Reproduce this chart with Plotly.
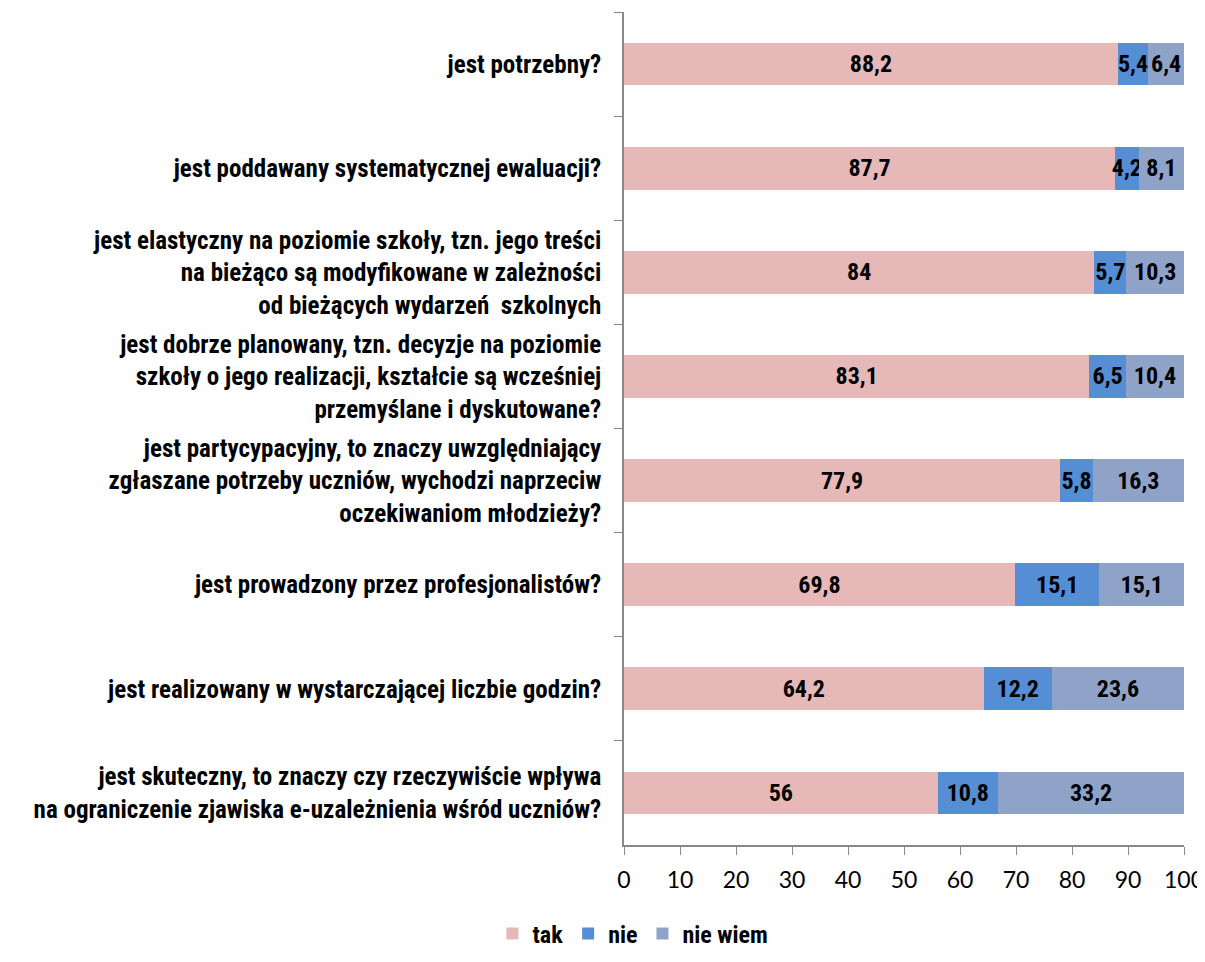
import plotly.graph_objects as go

categories = [
    "jest potrzebny?",
    "jest poddawany systematycznej ewaluacji?",
    "jest elastyczny na poziomie szkoły, tzn. jego treści<br>na bieżąco są modyfikowane w zależności<br>od bieżących wydarzeń  szkolnych",
    "jest dobrze planowany, tzn. decyzje na poziomie<br>szkoły o jego realizacji, kształcie są wcześniej<br>przemyślane i dyskutowane?",
    "jest partycypacyjny, to znaczy uwzględniający<br>zgłaszane potrzeby uczniów, wychodzi naprzeciw<br>oczekiwaniom młodzieży?",
    "jest prowadzony przez profesjonalistów?",
    "jest realizowany w wystarczającej liczbie godzin?",
    "jest skuteczny, to znaczy czy rzeczywiście wpływa<br>na ograniczenie zjawiska e-uzależnienia wśród uczniów?",
]
tak = [88.2, 87.7, 84, 83.1, 77.9, 69.8, 64.2, 56]
nie = [5.4, 4.2, 5.7, 6.5, 5.8, 15.1, 12.2, 10.8]
nie_wiem = [6.4, 8.1, 10.3, 10.4, 16.3, 15.1, 23.6, 33.2]
series_names = ["tak", "nie", "nie wiem"]
x_ticks = [0, 10, 20, 30, 40, 50, 60, 70, 80, 90, 100]

colors = ["#E6B9B8", "#558ED5", "#8FA3C8"]
narrow = "Liberation Sans Narrow, Arial Narrow, Roboto Condensed, Liberation Sans, sans-serif"


def fmt(v):
    s = ("%g" % v)
    return s.replace(".", ",")


fig = go.Figure()
for name, vals, col in zip(series_names, [tak, nie, nie_wiem], colors):
    fig.add_trace(go.Bar(
        name=name, y=categories, x=vals, orientation="h",
        marker=dict(color=col, line=dict(width=0)),
        text=[fmt(v) for v in vals], textposition="inside",
        insidetextanchor="middle", textangle=0,
        textfont=dict(family=narrow, size=24, color="black", weight="bold"),
    ))

fig.update_layout(
    barmode="stack", bargap=0.59,
    width=1197, height=940,
    paper_bgcolor="white", plot_bgcolor="white",
    margin=dict(l=616, r=21, t=4, b=103),
    uniformtext=dict(minsize=24, mode="show"),
    font=dict(family=narrow, color="black"),
    legend=dict(orientation="h", x=0.016, xanchor="center",
                yref="container", y=0.015, yanchor="middle",
                font=dict(family=narrow, size=24, color="black", weight="bold"),
                traceorder="normal", itemwidth=30, tracegroupgap=0),
    showlegend=True,
)
fig.update_xaxes(range=[0, 100], tickvals=x_ticks, ticks="outside", ticklen=8,
                 tickcolor="#898989", showline=True, linecolor="#898989", linewidth=1.5,
                 showgrid=False, zeroline=False, automargin=False, ticklabelstandoff=6,
                 ticklabeloverflow="allow",
                 tickfont=dict(family="Lato, Open Sans, sans-serif", size=23, color="black"))
fig.update_yaxes(autorange="reversed", ticks="outside", ticklen=8, tickson="boundaries",
                 tickcolor="#898989", showline=True, linecolor="#898989", linewidth=1.5,
                 showgrid=False, zeroline=False, ticklabelstandoff=16, automargin=False,
                 tickfont=dict(family=narrow, size=25, color="black", weight="bold"))

fig.write_html("out.html")
